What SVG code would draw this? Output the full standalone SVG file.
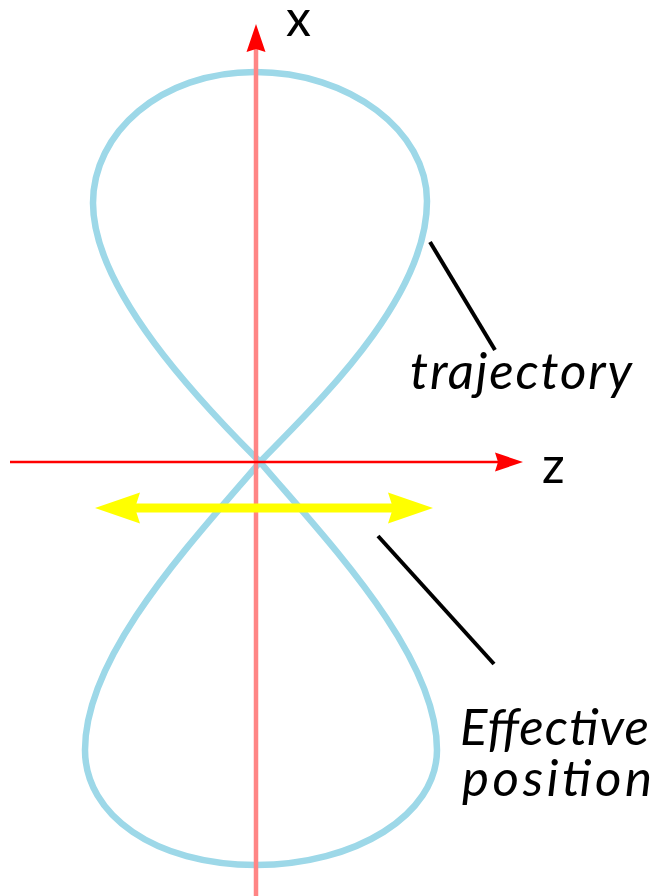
<svg xmlns="http://www.w3.org/2000/svg" width="662" height="896" viewBox="0 0 662 896">
  <style>
    .curve { fill: none; stroke: #9dd8e8; stroke-width: 6.5; }
    .axis-v { stroke: #ff8585; stroke-width: 4.5; fill: none; }
    .axis-h { stroke: #ff0000; stroke-width: 2.5; fill: none; }
    .eff { stroke: #ffff00; stroke-width: 9; fill: none; }
    .leader { stroke: #000000; stroke-width: 4; fill: none; }
    .axis-label { font-family: Lato, "Open Sans", sans-serif; font-size: 50px; fill: #000000; }
    .label { font-family: Lato, "Open Sans", sans-serif; font-style: italic; font-size: 51px; fill: #000000; }
  </style>
  <defs>
    <marker id="redhead" markerUnits="userSpaceOnUse" markerWidth="40" markerHeight="30" viewBox="-5 -15 40 30" refX="0" refY="0" orient="auto" overflow="visible">
      <path d="M25,0 L-3,-9.5 L0,0 L-3,9.5 Z" fill="#ff0000"/>
    </marker>
    <marker id="yellowhead" markerUnits="userSpaceOnUse" markerWidth="60" markerHeight="40" viewBox="-10 -20 60 40" refX="0" refY="0" orient="auto-start-reverse" overflow="visible">
      <path d="M40,0 L-5,-15.5 L0,0 L-5,15.5 Z" fill="#ffff00"/>
    </marker>
  </defs>

  <g id="trajectory-curve">
    <path class="curve" d="M260,462 C315,405 427,300 427,201 C427,131 350,72 255,72 C160,72 93,133 93,203 C93,290 200,402 260,462 C330,544 437,655 437,750 C437,815 355,865 256,865 C155,865 85,815 85,750 C85,655 190,544 260,462 Z"/>
  </g>

  <g id="axes">
    <line id="x-axis" class="axis-v" x1="256" y1="896" x2="256" y2="49" marker-end="url(#redhead)"/>
    <line id="z-axis" class="axis-h" x1="10" y1="462" x2="498" y2="462" marker-end="url(#redhead)"/>
  </g>

  <g id="effective-arrow">
    <line class="eff" x1="135" y1="508" x2="393" y2="508" marker-start="url(#yellowhead)" marker-end="url(#yellowhead)"/>
  </g>

  <g id="connectors">
    <line class="leader" x1="430" y1="242" x2="495" y2="350"/>
    <line class="leader" x1="378" y1="536" x2="494" y2="664"/>
  </g>

  <g id="label-x"><text class="axis-label" x="286" y="36">x</text></g>
  <g id="label-z"><text class="axis-label" x="542" y="483">z</text></g>
  <g id="label-trajectory"><text class="label" x="410" y="389" textLength="222" lengthAdjust="spacing">trajectory</text></g>
  <g id="label-effective"><text class="label" x="460" y="745" textLength="189" lengthAdjust="spacing">Effective</text><text class="label" x="462" y="796" textLength="190" lengthAdjust="spacing">position</text></g>
</svg>
